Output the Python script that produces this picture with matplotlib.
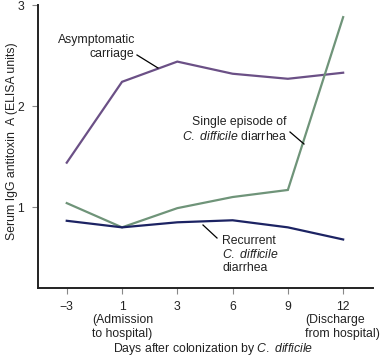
import matplotlib
matplotlib.use("Agg")
import matplotlib.pyplot as plt

plt.rcParams['font.family'] = ['Liberation Sans', 'DejaVu Sans']
plt.rcParams['mathtext.fontset'] = 'custom'
plt.rcParams['mathtext.rm'] = 'Liberation Sans'
plt.rcParams['mathtext.it'] = 'Liberation Sans:italic'

days = ["\u22123", "1", "3", "6", "9", "12"]
asymptomatic = [1.44, 2.24, 2.44, 2.32, 2.27, 2.33]
single_episode = [1.04, 0.80, 0.99, 1.10, 1.17, 2.88]
recurrent = [0.865, 0.80, 0.85, 0.87, 0.80, 0.68]
yticks = [1, 2, 3]

c_purple = "#6b5086"
c_green = "#6f9479"
c_navy = "#1c2363"
fs = 8.8
tc = '#222222'

fig = plt.figure(figsize=(3.8, 3.56), dpi=100)
ax = fig.add_axes([38/380, 1-288/356, (373-38)/380, (288-5)/356])
x = list(range(len(days)))
ax.plot(x, asymptomatic, color=c_purple, lw=1.6, solid_joinstyle='miter')
ax.plot(x, single_episode, color=c_green, lw=1.6, solid_joinstyle='miter')
ax.plot(x, recurrent, color=c_navy, lw=1.6, solid_joinstyle='miter')

ax.set_xlim(-0.52, 5.54)
ax.set_ylim(0.2, 3.0)
ax.set_xticks(x)
ax.set_xticklabels(days, fontsize=fs)
ax.set_yticks(yticks)
ax.set_yticklabels([str(v) for v in yticks], fontsize=fs)
for s in ['top', 'right']:
    ax.spines[s].set_visible(False)
for s in ['left', 'bottom']:
    ax.spines[s].set_linewidth(1.4)
    ax.spines[s].set_color(tc)
ax.tick_params(axis='both', length=4, width=0.8, color='#888888', pad=6, labelcolor=tc)
ax.tick_params(axis='x', pad=5)

def px(xp, yp):
    return (xp/380, 1-yp/356)

fig.text(*px(92, 320), "(Admission", fontsize=fs, ha='left', va='center', color=tc)
fig.text(*px(92, 334), "to hospital)", fontsize=fs, ha='left', va='center', color=tc)
fig.text(*px(305, 320), "(Discharge", fontsize=fs, ha='left', va='center', color=tc)
fig.text(*px(305, 334), "from hospital)", fontsize=fs, ha='left', va='center', color=tc)

fig.text(*px(213, 349), r"Days after colonization by $\mathit{C.\ difficile}$", fontsize=fs,
         ha='center', va='center', color=tc)
fig.text(*px(12, 141), "Serum IgG antitoxin  A (ELISA units)", fontsize=fs, rotation=90,
         ha='center', va='center', color=tc)

fig.text(*px(135, 40), "Asymptomatic", fontsize=fs, ha='right', va='center', color=tc)
fig.text(*px(134, 54), "carriage", fontsize=fs, ha='right', va='center', color=tc)
fig.add_artist(plt.Line2D([137/380, 158/380], [1-55/356, 1-68/356], color='black', lw=0.9))

fig.text(*px(287, 122), "Single episode of", fontsize=fs, ha='right', va='center', color=tc)
fig.text(*px(287, 136), r"$\mathit{C.\ difficile}$ diarrhea", fontsize=fs, ha='right', va='center', color=tc)
fig.add_artist(plt.Line2D([290/380, 304/380], [1-132/356, 1-144/356], color='black', lw=0.9))

fig.text(*px(222, 241), "Recurrent", fontsize=fs, ha='left', va='center', color=tc)
fig.text(*px(222, 254), r"$\mathit{C.\ difficile}$", fontsize=fs, ha='left', va='center', color=tc)
fig.text(*px(222, 268), "diarrhea", fontsize=fs, ha='left', va='center', color=tc)
fig.add_artist(plt.Line2D([203/380, 217/380], [1-225/356, 1-238/356], color='black', lw=0.9))

fig.savefig("out.png", dpi=100)
